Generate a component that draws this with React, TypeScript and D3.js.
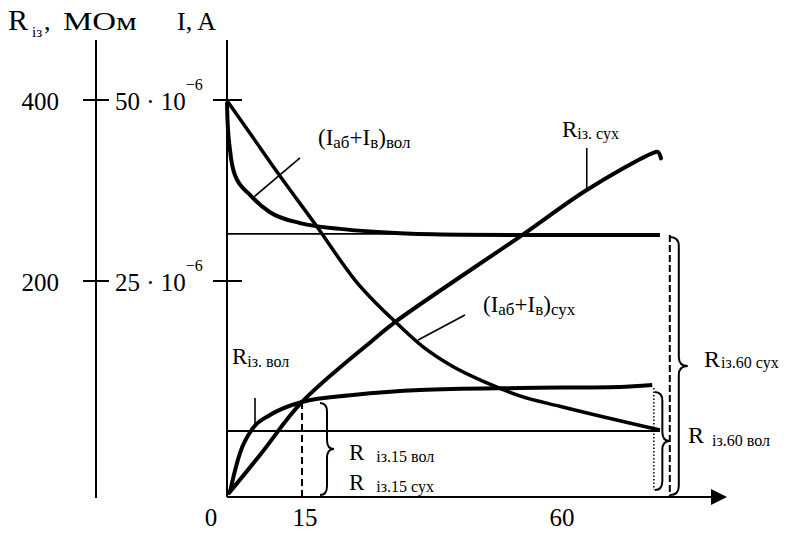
import React, { useRef, useEffect } from "react";
import * as d3 from "d3";

// x axis: time, min
const xTickValues = [0, 15, 60];
// left axis: R iz, MOhm
const rTickValues = [200, 400];
// right axis: I, A (values in 10^-6 A)
const iTickValues = [25, 50];

// R iz. sukh (dry insulation)
const rSukhTime = [0.4, 6.6, 15, 27.3, 31.1, 53.1, 64.5, 76.5, 77.45, 78.0];
const rSukhValue = [3.7, 38.9, 88, 145.4, 162, 250.8, 300.6, 341.4, 342.5, 335.5];

// R iz. vol (wet insulation)
const rVolTime = [0.6, 1.0, 2.6, 5.2, 8.6, 15, 23.8, 35.4, 52.7, 70.5, 76.4];
const rVolValue = [4.6, 13, 40.7, 63.9, 75.9, 88, 94.4, 99.1, 100.9, 101.9, 103.7];

// (Iab + Iv) vol
const iVolTime = [0, 0.1, 0.6, 1.6, 4.6, 8.6, 14.6, 21.6, 32, 42.4, 52.7, 77.8];
const iVolValue = [49.7, 47.2, 43.1, 39.6, 36.9, 34.5, 33.0, 32.2, 31.6, 31.4, 31.35, 31.35];

// (Iab + Iv) sukh
const iSukhTime = [0, 4.6, 10.6, 17.6, 24.2, 31.1, 35.9, 41.1, 47.0, 52.7, 59.6, 77.8];
const iSukhValue = [49.9, 45.4, 39.5, 32.5, 25.1, 20.3, 17.4, 15.1, 13.2, 11.7, 10.5, 7.75];

// steady levels of the currents
const iVolLimit = 31.5;
const iSukhLimit = 7.64;
const tEnd = 77.8;
const tDotted = 76.7;
const tDashed60 = 79.6;

const FONT = "'Liberation Serif', 'Times New Roman', serif";

function bracePath(x0: number, y0: number, y1: number, w: number) {
    const xm = x0 + w * 0.5;
    const ym = (y0 + y1) / 2;
    const r = Math.min(9, (y1 - y0) / 6);
    return `M${x0},${y0} Q${xm},${y0} ${xm},${y0 + r} L${xm},${ym - r} Q${xm},${ym} ${x0 + w},${ym} ` +
        `Q${xm},${ym} ${xm},${ym + r} L${xm},${y1 - r} Q${xm},${y1} ${x0},${y1}`;
}

function App() {
    const ref = useRef<SVGSVGElement>(null);

    useEffect(() => {
        const svg = d3.select(ref.current);
        svg.selectAll("*").remove();

        const x = d3.scaleLinear().domain([0, 15, 60, 90]).range([227, 302, 562, 727]);
        const yR = d3.scaleLinear().domain([0, 200, 400, 466]).range([497, 281, 100, 40]);
        const yI = d3.scaleLinear().domain([0, 25, 50, 58.3]).range([497, 281, 100, 40]);

        const leftX = 96;
        const x0 = x(0);
        const y0 = yR(0);

        const g = svg.append("g").attr("stroke", "#000").attr("fill", "none");

        // left R axis
        g.append("line").attr("x1", leftX).attr("x2", leftX)
            .attr("y1", yR(466)).attr("y2", y0 + 1).attr("stroke-width", 2);
        rTickValues.forEach(v => {
            g.append("line").attr("x1", leftX - 13).attr("x2", leftX + 13)
                .attr("y1", yR(v)).attr("y2", yR(v)).attr("stroke-width", 2);
        });
        // right I axis
        g.append("line").attr("x1", x0).attr("x2", x0)
            .attr("y1", yI(58.3)).attr("y2", y0).attr("stroke-width", 2);
        iTickValues.forEach(v => {
            g.append("line").attr("x1", x0 - 14).attr("x2", x0 + 15)
                .attr("y1", yI(v)).attr("y2", yI(v)).attr("stroke-width", 2);
        });
        // time axis with arrow
        g.append("line").attr("x1", x0).attr("x2", x(90) - 10)
            .attr("y1", y0).attr("y2", y0).attr("stroke-width", 2.2);
        svg.append("path")
            .attr("d", `M${x(90) - 16},${y0 - 8} L${x(90)},${y0} L${x(90) - 16},${y0 + 8} Z`)
            .attr("fill", "#000");

        // steady current levels
        [iVolLimit, iSukhLimit].forEach(v => {
            g.append("line").attr("x1", x0).attr("x2", x(tEnd))
                .attr("y1", yI(v)).attr("y2", yI(v)).attr("stroke-width", 1.8);
        });

        const lineR = (t: number[], v: number[], curve: d3.CurveFactory) =>
            d3.line<number>().x((_, i) => x(t[i])).y(d => yR(d)).curve(curve)(v);
        const lineI = (t: number[], v: number[]) =>
            d3.line<number>().x((_, i) => x(t[i])).y(d => yI(d)).curve(d3.curveMonotoneX)(v);

        g.append("path").attr("d", lineR(rSukhTime, rSukhValue, d3.curveCatmullRom.alpha(0.5)))
            .attr("stroke-width", 4).attr("stroke-linecap", "round");
        g.append("path").attr("d", lineR(rVolTime, rVolValue, d3.curveMonotoneX))
            .attr("stroke-width", 4);
        g.append("path").attr("d", lineI(iVolTime, iVolValue)).attr("stroke-width", 4);
        g.append("path").attr("d", lineI(iSukhTime, iSukhValue)).attr("stroke-width", 3.5);

        // 15 min marker
        g.append("line").attr("x1", x(15)).attr("x2", x(15))
            .attr("y1", yR(88)).attr("y2", y0).attr("stroke-width", 2)
            .attr("stroke-dasharray", "7,4");
        // 60 min markers
        g.append("line").attr("x1", x(tDotted)).attr("x2", x(tDotted))
            .attr("y1", yR(101)).attr("y2", y0 - 7).attr("stroke-width", 1.5)
            .attr("stroke-dasharray", "1.5,2");
        g.append("line").attr("x1", x(tDashed60)).attr("x2", x(tDashed60))
            .attr("y1", yI(iVolLimit) + 1).attr("y2", y0).attr("stroke-width", 2)
            .attr("stroke-dasharray", "7,3");

        // braces
        g.append("path").attr("d", bracePath(x(15) + 18, yR(88) + 1, y0 - 2, 14)).attr("stroke-width", 2);
        g.append("path").attr("d", bracePath(x(tDotted) + 1, yR(101) + 4, y0 - 7, 15)).attr("stroke-width", 2);
        g.append("path").attr("d", bracePath(x(tDashed60), yI(iVolLimit) + 3, y0 - 2, 18)).attr("stroke-width", 2);

        // leader lines
        const leaders: [number, number, number, number][] = [
            [x(5.6), yR(66.7), x(5.6), yR(91.7)],
            [x(14.6), yI(42.0), x(5.2), yI(36.5)],
            [x(64.5), yR(300.6), x(64.5), yR(347)],
            [x(43.2), yI(21.06), x(35.1), yI(18.17)],
        ];
        leaders.forEach(([a, b, c, d]) => {
            g.append("line").attr("x1", a).attr("y1", b).attr("x2", c).attr("y2", d)
                .attr("stroke-width", 1.6);
        });

        // texts
        const t = svg.append("g").attr("font-family", FONT).attr("fill", "#000");

        const label = (lx: number, ly: number, parts: [string, number, number, number?][]) => {
            const txt = t.append("text").attr("x", lx).attr("y", ly);
            parts.forEach(([s, size, off, dx]) => {
                const sp = txt.append("tspan").attr("font-size", size).attr("y", ly + off).text(s);
                if (dx) sp.attr("dx", dx);
            });
        };

        // axis titles
        label(8, 30, [["R", 30, 0], ["із", 15, 7, 4], [",", 26, 0, 2]]);
        t.append("text").attr("x", 63).attr("y", 30).attr("font-size", 26)
            .attr("textLength", 74).attr("lengthAdjust", "spacingAndGlyphs").text("МОм");
        t.append("text").attr("x", 177).attr("y", 30).attr("font-size", 26).text("I, A");

        // tick labels
        rTickValues.forEach(v => {
            t.append("text").attr("x", leftX - 37).attr("y", yR(v) + 10)
                .attr("font-size", 25).attr("text-anchor", "end").text(String(v));
        });
        iTickValues.forEach(v => {
            label(115, yI(v) + 10, [[`${v} · 10`, 25, 0], ["−6", 16, -20]]);
        });
        xTickValues.forEach(v => {
            t.append("text").attr("x", x(v) + (v === 0 ? -16 : v === 15 ? 3 : 0)).attr("y", y0 + 29)
                .attr("font-size", 25).attr("text-anchor", "middle").text(String(v));
        });

        // curve labels
        label(232, 364, [["R", 23, 0], ["із. вол", 16, 3]]);
        label(318, 145, [["(I", 23, 0], ["аб", 17, 3], ["+I", 23, 0], ["в", 17, 3], [")", 23, 0], ["вол", 17, 3]]);
        label(562, 137, [["R", 23, 0], ["із. сух", 16, 2]]);
        label(483, 312, [["(I", 23, 0], ["аб", 17, 3], ["+I", 23, 0], ["в", 17, 3], [")", 23, 0], ["сух", 17, 3]]);
        label(349, 460, [["R", 23, 0], ["із.15 вол", 16, 2, 12]]);
        label(349, 490, [["R", 23, 0], ["із.15 сух", 16, 2, 12]]);
        label(704, 367, [["R", 24, 0], ["із.60 сух", 16, 1, 1]]);
        label(688, 443, [["R", 24, 0], ["із.60 вол", 16, 3, 8]]);
    }, []);

    return (
        <svg ref={ref} width={787} height={534}
            style={{ position: "absolute", left: 0, top: 0, background: "#fff" }} />
    );
}

export default App;
